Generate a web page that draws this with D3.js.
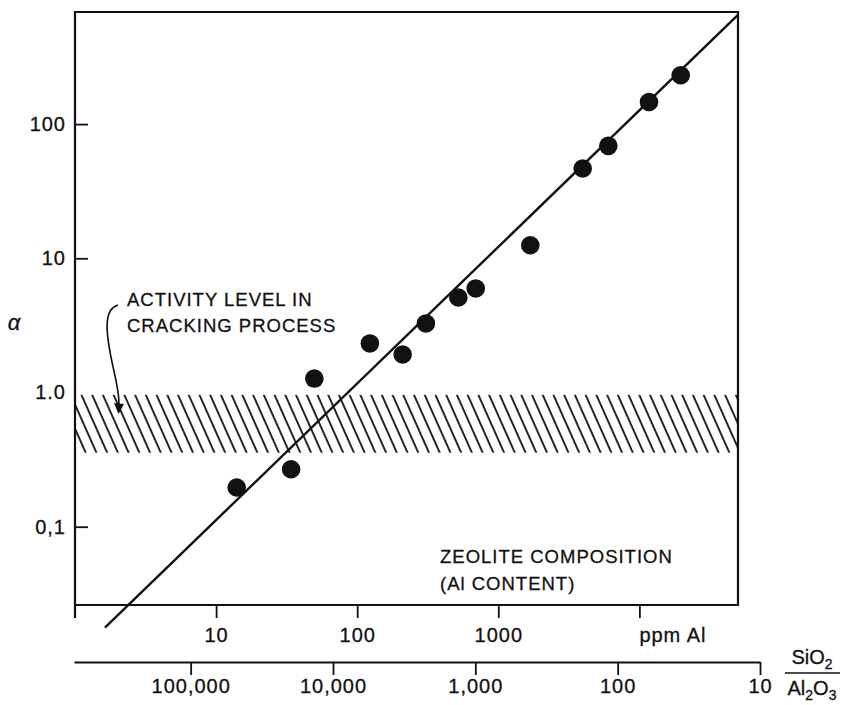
<!DOCTYPE html>
<html>
<head>
<meta charset="utf-8">
<script src="https://cdn.jsdelivr.net/npm/d3@7"></script>
<style>
  html, body { margin: 0; padding: 0; background: #fff; }
  svg text { font-family: "Liberation Sans", Arial, Helvetica, sans-serif; fill: #111; stroke: #111; stroke-width: 0.3px; }
</style>
</head>
<body>
<svg id="chart" width="844" height="705"></svg>
<script>
// Aluminium content of each zeolite sample (ppm Al)
const ppmAl = [14.0, 34.0, 49.7, 123, 210, 307, 521, 692, 1686, 3964, 6024, 11700, 19630];
// Measured cracking activity (alpha) of each sample
const alphaValues = [0.196, 0.268, 1.27, 2.32, 1.92, 3.27, 5.1, 5.96, 12.5, 46.7, 68.8, 146, 231];
// End points of the fitted straight line
const fitPpm = [1.63, 49770];
const fitAlpha = [0.0177, 648];
// Alpha range of the commercial cracking process
const bandAlpha = [0.356, 0.96];

const alphaTicks = [100, 10, 1, 0.1];
const alphaTickLabels = ["100", "10", "1.0", "0,1"];
const ppmTicks = [10, 100, 1000, 10000];
const ppmTickLabels = ["10", "100", "1000", ""];
const ratioTicks = [100000, 10000, 1000, 100, 10];
const ratioTickLabels = ["100,000", "10,000", "1,000", "100", "10"];

const svg = d3.select("#chart");
const ink = "#111";

const x = d3.scaleLog().domain([1, 5e4]).range([75, 738]);
const y = d3.scaleLog().domain([0.0261, 684]).range([605, 12]);
// SiO2/Al2O3 ratio runs the other way
const xr = d3.scaleLog().domain([6.6e5, 10]).range([74, 760]);

const [x0, x1] = x.range();
const [yb, yt] = y.range();

// hatching for the activity band
const defs = svg.append("defs");
defs.append("pattern")
  .attr("id", "hatch")
  .attr("patternUnits", "userSpaceOnUse")
  .attr("width", 9.8)
  .attr("height", 30)
  .attr("patternTransform", "rotate(-24)")
  .append("line")
  .attr("x1", 2).attr("x2", 2).attr("y1", 0).attr("y2", 30)
  .attr("stroke", ink).attr("stroke-width", 1.8);

svg.append("rect")
  .attr("x", x0)
  .attr("width", x1 - x0)
  .attr("y", y(bandAlpha[1]))
  .attr("height", y(bandAlpha[0]) - y(bandAlpha[1]))
  .attr("fill", "url(#hatch)");

// plot frame
svg.append("path")
  .attr("d", `M${x0},${yb + 13}V${yt}H${x1}V${yb}H${x0}`)
  .attr("fill", "none")
  .attr("stroke", ink)
  .attr("stroke-width", 2.2);

const tickFont = sel => sel
  .style("font-size", "20px").style("letter-spacing", "1px")
  .attr("font-family", null).attr("fill", ink);

// alpha axis: ticks point inward
const yAxis = svg.append("g")
  .attr("transform", `translate(${x0},0)`)
  .call(d3.axisLeft(y)
    .tickValues(alphaTicks)
    .tickSize(-13)
    .tickPadding(9)
    .tickFormat((d, i) => alphaTickLabels[i]));
yAxis.select(".domain").remove();
yAxis.selectAll(".tick line").attr("stroke", ink).attr("stroke-width", 1.8)
  .filter(d => d === 1).remove();
yAxis.selectAll(".tick text").call(tickFont);

// ppm Al axis
const xAxis = svg.append("g")
  .attr("transform", `translate(0,${yb})`)
  .call(d3.axisBottom(x)
    .tickValues(ppmTicks)
    .tickSize(13)
    .tickPadding(10)
    .tickFormat((d, i) => ppmTickLabels[i]));
xAxis.select(".domain").remove();
xAxis.selectAll(".tick line").attr("stroke", ink).attr("stroke-width", 1.8);
xAxis.selectAll(".tick text").call(tickFont);

svg.append("text")
  .attr("x", x(10000))
  .attr("y", 642)
  .style("font-size", "20px").style("letter-spacing", "1px")
  .text("ppm Al");

// SiO2/Al2O3 axis
const rAxis = svg.append("g")
  .attr("transform", "translate(0,662)")
  .call(d3.axisBottom(xr)
    .tickValues(ratioTicks)
    .tickSize(13)
    .tickSizeOuter(0)
    .tickPadding(4)
    .tickFormat((d, i) => ratioTickLabels[i]));
rAxis.select(".domain").attr("stroke", ink).attr("stroke-width", 1.8);
rAxis.selectAll(".tick line").attr("stroke", ink).attr("stroke-width", 1.8);
rAxis.selectAll(".tick text").call(tickFont);

// fraction label SiO2 / Al2O3
const fx = 812;
const num = svg.append("text").attr("x", fx).attr("y", 664)
  .attr("text-anchor", "middle").style("font-size", "20px");
num.append("tspan").text("SiO");
num.append("tspan").attr("dy", 5).style("font-size", "14px").text("2");
svg.append("line")
  .attr("x1", 785).attr("x2", 840).attr("y1", 673).attr("y2", 673)
  .attr("stroke", ink).attr("stroke-width", 1.6);
const den = svg.append("text").attr("x", fx).attr("y", 695)
  .attr("text-anchor", "middle").style("font-size", "20px");
den.append("tspan").text("Al");
den.append("tspan").attr("dy", 5).style("font-size", "14px").text("2");
den.append("tspan").attr("dy", -5).text("O");
den.append("tspan").attr("dy", 5).style("font-size", "14px").text("3");

// axis symbol
svg.append("text")
  .attr("x", 14).attr("y", 322)
  .attr("text-anchor", "middle")
  .attr("dominant-baseline", "central")
  .style("font-size", "22px").style("font-style", "italic")
  .text("α");

// fitted line
svg.append("line")
  .attr("x1", x(fitPpm[0])).attr("y1", y(fitAlpha[0]))
  .attr("x2", x(fitPpm[1])).attr("y2", y(fitAlpha[1]))
  .attr("stroke", ink).attr("stroke-width", 2.4);

// samples
svg.append("g").selectAll("circle")
  .data(ppmAl.map((p, i) => ({ p, a: alphaValues[i] })))
  .join("circle")
  .attr("cx", d => x(d.p))
  .attr("cy", d => y(d.a))
  .attr("r", 9.3)
  .attr("fill", ink);

// annotations
const note = svg.append("text")
  .style("font-size", "18.5px").style("letter-spacing", "1px");
note.append("tspan").attr("x", 127).attr("y", 306).text("ACTIVITY LEVEL IN");
note.append("tspan").attr("x", 127).attr("y", 332).text("CRACKING PROCESS");

svg.append("path")
  .attr("d", "M118,305 C104,309 106,330 110,352 C114,374 119,388 119,404")
  .attr("fill", "none").attr("stroke", ink).attr("stroke-width", 1.6);
svg.append("path")
  .attr("d", "M114,403 L124,404 L118.5,414 Z")
  .attr("fill", ink);

const comp = svg.append("text")
  .style("font-size", "18.5px").style("letter-spacing", "1px");
comp.append("tspan").attr("x", 440).attr("y", 563).text("ZEOLITE COMPOSITION");
comp.append("tspan").attr("x", 440).attr("y", 590).text("(Al CONTENT)");
</script>
</body>
</html>
